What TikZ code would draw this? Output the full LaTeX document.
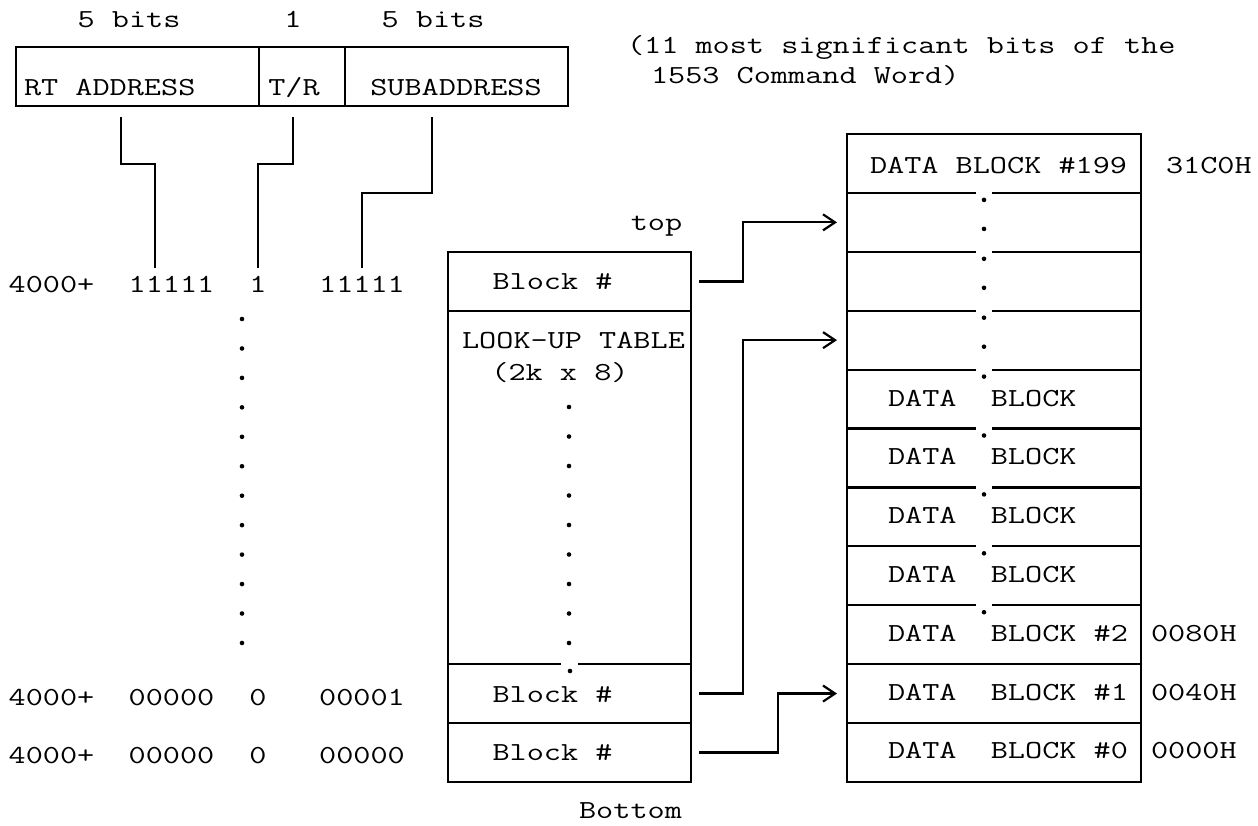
\documentclass[tikz,border=0pt]{standalone}
\usepackage{graphicx}
\usetikzlibrary{arrows.meta}
\newcommand{\mt}[1]{\scalebox{1.28}[1]{#1}}
\tikzset{
  txt/.style={inner sep=0pt, outer sep=0pt, anchor=base, font=\fontsize{26}{30}\selectfont\ttfamily},
  txtl/.style={txt, anchor=base west},
  cell/.style={draw, line width=2.2pt, inner sep=0pt, outer sep=0pt},
  ln/.style={line width=2.2pt},
  arr/.style={line width=2.2pt, -{Straight Barb[length=12pt,width=16pt]}},
}
\begin{document}
\begin{tikzpicture}[x=1pt,y=-1pt]
\useasboundingbox (0,0) rectangle (1258,825);

% command word register
\node[cell, anchor=north west, minimum width=243pt, minimum height=59pt] (rt) at (16,47) {};
\node[cell, anchor=north west, minimum width=86pt, minimum height=59pt] (tr) at (259,47) {};
\node[cell, anchor=north west, minimum width=223pt, minimum height=59pt] (sa) at (345,47) {};
\node[txt] (w1) at (129,27) {\mt{5 bits}};
\node[txt] (w2) at (293,27) {\mt{1}};
\node[txt] (w3) at (433,27) {\mt{5 bits}};
\node[txtl] (rtl) at (24,95) {\mt{RT ADDRESS}};
\node[txt] (trl) at (294,95) {\mt{T/R}};
\node[txt] (sal) at (456,95) {\mt{SUBADDRESS}};
\node[txtl] (note1) at (627,53) {\mt{(11 most significant bits of the}};
\node[txtl] (note2) at (651,83) {\mt{1553 Command Word)}};

% address rows
\node[txt] (a1) at (51.5,292) {\mt{4000+}};
\node[txt] (b1) at (171.5,292) {\mt{11111}};
\node[txt] (c1) at (258,292) {\mt{1}};
\node[txt] (e1) at (362,292) {\mt{11111}};
\node[txt] (a2) at (51.5,705) {\mt{4000+}};
\node[txt] (b2) at (171.5,705) {\mt{00000}};
\node[txt] (c2) at (258,705) {\mt{0}};
\node[txt] (e2) at (362,705) {\mt{00001}};
\node[txt] (a3) at (51.5,763) {\mt{4000+}};
\node[txt] (b3) at (171.5,763) {\mt{00000}};
\node[txt] (c3) at (258,763) {\mt{0}};
\node[txt] (e3) at (362,763) {\mt{00000}};
\foreach \k in {0,...,11} \fill (242,{319+29.45*\k}) circle (2.3);

% connectors from register to address bits
\coordinate (rtA) at (121,117); \coordinate (rtB) at (155,268);
\coordinate (trA) at (293,117); \coordinate (trB) at (258,268);
\coordinate (saA) at (432,117); \coordinate (saB) at (362,268);
\draw[ln] (rtA) -- ++(0,47) -| (rtB);
\draw[ln] (trA) -- ++(0,47) -| (trB);
\draw[ln] (saA) -- ++(0,76) -| (saB);

% look-up table
\node[cell, anchor=north west, minimum width=243pt, minimum height=59pt] (lkTop) at (448,252) {};
\node[cell, anchor=north west, minimum width=243pt, minimum height=353pt] (lkBody) at (448,311) {};
\node[cell, anchor=north west, minimum width=243pt, minimum height=59pt] (lk1) at (448,664) {};
\node[cell, anchor=north west, minimum width=243pt, minimum height=59pt] (lk0) at (448,723) {};
\fill[white] (561,661.5) rectangle (578,666.5);
\fill (570,671) circle (2.3);
\foreach \k in {0,...,8} \fill (569,{407+29.5*\k}) circle (2.3);
\node[txt] (top) at (656.5,230) {\mt{top}};
\node[txt] (bot) at (630.5,818) {\mt{Bottom}};
\node[txt] (bk2) at (552.5,289) {\mt{Block \#}};
\node[txt] (bk1) at (552.5,702) {\mt{Block \#}};
\node[txt] (bk0) at (552.5,760) {\mt{Block \#}};
\node[txt] (lut1) at (573.5,348) {\mt{LOOK-UP TABLE}};
\node[txt] (lut2) at (560,380) {\mt{(2k x 8)}};

% data blocks
\foreach \i in {0,...,10}
  \node[cell, minimum width=294pt, minimum height=58.9pt] (d\i) at (994,{134+58.9*\i+29.45}) {};
\foreach \i in {1,...,8} {
  \fill[white] (976,{134+58.9*\i-2.5}) rectangle (992,{134+58.9*\i+2.5});
  \fill (984,{134+58.9*\i+7}) circle (2.3);
}
\foreach \i in {1,2,3} \fill (984,{134+58.9*\i+36}) circle (2.3);
\node[txtl] (t0) at (870,173) {\mt{DATA BLOCK \#199}};
\foreach \i in {4,...,7}
  \node[txtl] (t\i) at (888,{134+58.9*\i+29.45+7}) {\mt{DATA\ \ BLOCK}};
\node[txtl] (t8) at (888,{134+58.9*8+29.45+7}) {\mt{DATA\ \ BLOCK \#2}};
\node[txtl] (t9) at (888,{134+58.9*9+29.45+7}) {\mt{DATA\ \ BLOCK \#1}};
\node[txtl] (t10) at (888,{134+58.9*10+29.45+6}) {\mt{DATA\ \ BLOCK \#0}};
\node[txtl] (h0) at (1166,173) {\mt{31C0H}};
\node[txtl] (h8) at (1151,{134+58.9*8+29.45+7}) {\mt{0080H}};
\node[txtl] (h9) at (1151,{134+58.9*9+29.45+7}) {\mt{0040H}};
\node[txtl] (h10) at (1151,{134+58.9*10+29.45+6}) {\mt{0000H}};

% pointers
\draw[arr] ([xshift=8pt]lkTop.east) -- ++(44,0) |- ([xshift=-10pt]d1.west);
\draw[arr] ([xshift=8pt]lk1.east) -- ++(44,0) |- ([xshift=-10pt]d3.west);
\draw[arr] ([xshift=8pt]lk0.east) -- ++(79,0) |- ([xshift=-10pt]d9.west);
\end{tikzpicture}
\end{document}
